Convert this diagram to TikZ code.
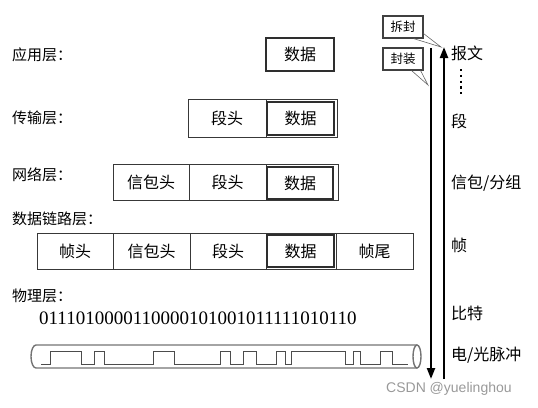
\documentclass[tikz,border=0pt]{standalone}
\usepackage{fontspec}
\setmainfont{Noto Sans CJK SC}
\newfontfamily\digitfont{Liberation Serif}
\newfontfamily\markfont{Liberation Sans}
\usetikzlibrary{arrows.meta}
\begin{document}
\begin{tikzpicture}[x=1pt,y=-1pt,
  cell/.style={draw=black!78, line width=0.8pt, inner sep=0pt, outer sep=0pt, minimum height=36pt, font=\fontsize{16}{18}\selectfont},
  databox/.style={draw=black!82, line width=1.1pt},
  layerlabel/.style={anchor=west, inner sep=0pt, font=\fontsize{15}{17}\selectfont},
  unitlabel/.style={anchor=west, inner sep=0pt, font=\fontsize{16}{18}\selectfont},
  callout/.style={draw=black!75, line width=1.2pt, fill=white, inner sep=0pt, minimum width=40pt, minimum height=22pt, font=\fontsize{12.5}{14}\selectfont},
  wedge/.style={draw=black!60, line width=0.6pt},
  flow/.style={line width=2.2pt, -{Triangle[length=11pt,width=8pt]}},
  tube/.style={draw=black!55, line width=1.4pt},
  wave/.style={draw=black!70, line width=1pt}
]
\useasboundingbox (0,0) rectangle (538,407);

% application layer
\node[layerlabel] (lapp) at (12,55) {应用层：};
\node[cell, databox, minimum width=68pt, minimum height=33pt] (appdata) at (300,54.5) {数据};

% transport layer
\node[layerlabel] (ltrans) at (12,118) {传输层：};
\node[cell, minimum width=78pt, minimum height=38pt] (tseg) at (227,118) {段头};
\node[cell, minimum width=71pt, minimum height=38pt] (tcell) at (301.5,118) {};
\node[cell, databox, minimum width=67pt, minimum height=33pt] (tdata) at (300.5,118.5) {数据};

% network layer
\node[layerlabel] (lnet) at (12,175) {网络层：};
\node[cell, minimum width=76pt] (npkt) at (151,182) {信包头};
\node[cell, minimum width=77pt] (nseg) at (227.5,182) {段头};
\node[cell, minimum width=72pt] (ncell) at (302,182) {};
\node[cell, databox, minimum width=66pt, minimum height=32pt] (ndata) at (300,183) {数据};

% data link layer
\node[layerlabel] (llink) at (12,219) {数据链路层：};
\node[cell, minimum width=76pt] (fhead) at (75,251) {帧头};
\node[cell, minimum width=77pt] (dpkt) at (151.5,251) {信包头};
\node[cell, minimum width=76pt] (dseg) at (228,251) {段头};
\node[cell, minimum width=70pt] (dcell) at (301,251) {};
\node[cell, databox, minimum width=67pt, minimum height=32pt] (ddata) at (300.5,251) {数据};
\node[cell, minimum width=77pt] (ftail) at (374.5,251) {帧尾};

% physical layer
\node[layerlabel] (lphys) at (12,296) {物理层：};
\node[anchor=west, inner sep=0pt, font=\digitfont\fontsize{19}{21}\selectfont] (bits) at (39,318) {0111010000110000101001011111010110};

% cable
\draw[tube] (417,345) -- (36,345) arc[start angle=270, end angle=90, x radius=5, y radius=11.5] -- (417,368);
\draw[tube] (417,356.5) ellipse[x radius=4, y radius=11.5];
\draw[wave] (41,364) -- (50,364) -- (50,351) -- (81,351) -- (81,364) -- (94,364) -- (94,351) -- (104,351) -- (104,364)
  -- (153,364) -- (153,351) -- (174,351) -- (174,364) -- (220,364) -- (220,351) -- (230,351) -- (230,364)
  -- (243,364) -- (243,351) -- (256,351) -- (256,364) -- (276,364) -- (276,351) -- (285,351) -- (285,364)
  -- (291,364) -- (291,351) -- (345,351) -- (345,364) -- (353,364) -- (353,351) -- (360,351) -- (360,364)
  -- (380,364) -- (380,351) -- (392,351) -- (392,364) -- (408,364);

% arrows
\coordinate (downstart) at (431,48);
\coordinate (downend) at (431,379);
\coordinate (upstart) at (444,379);
\coordinate (upend) at (444,47);
\draw[flow] (downstart) -- (downend);
\draw[flow] (upstart) -- (upend);

% callouts
\node[callout] (unwrap) at (403,27) {拆封};
\node[callout] (wrap) at (403,59) {封装};
\coordinate (unwraptip) at (441,47);
\coordinate (wraptip) at (428,85);
\draw[wedge] ([xshift=-10pt]unwrap.south east) -- (unwraptip) -- ([yshift=5pt]unwrap.south east);
\draw[wedge] ([xshift=-12pt]wrap.south east) -- (wraptip) -- ([xshift=-3pt]wrap.south east);

% unit labels
\node[unitlabel] (umsg) at (451,53) {报文};
\coordinate (dotA) at (461,69);
\coordinate (dotB) at (461,94);
\draw[line width=2.6pt, dash pattern=on 2.4pt off 3.4pt] (dotA) -- (dotB);
\node[unitlabel] (useg) at (451,121) {段};
\node[unitlabel] (upkt) at (451,183) {信包/分组};
\node[unitlabel] (uframe) at (451,245) {帧};
\node[unitlabel] (ubit) at (451,313) {比特};
\node[unitlabel] (upulse) at (451,355) {电/光脉冲};

% watermark
\node[anchor=west, inner sep=0pt, text=black!40, font=\markfont\fontsize{14}{16}\selectfont] (wm) at (386,389) {CSDN @yuelinghou};
\end{tikzpicture}
\end{document}
